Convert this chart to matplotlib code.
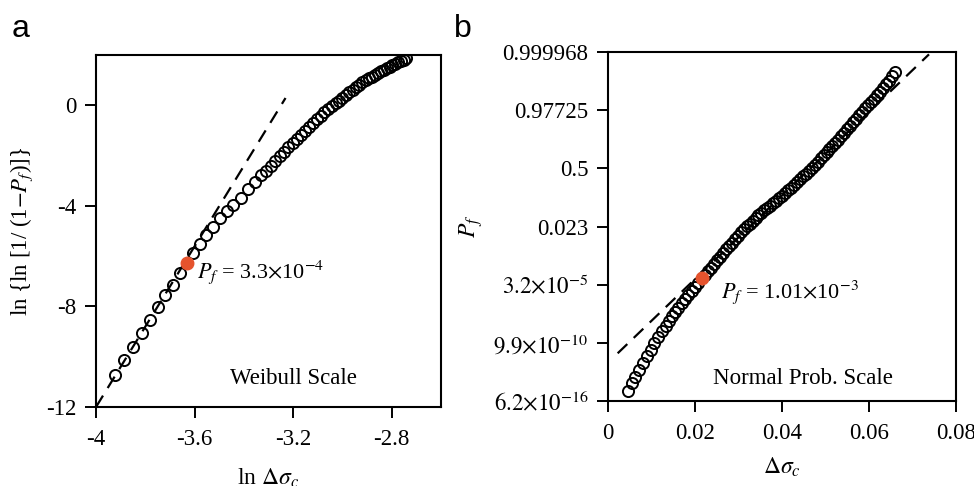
import matplotlib
matplotlib.use('Agg')
import matplotlib.pyplot as plt

plt.rcParams['font.family'] = ['Liberation Serif', 'DejaVu Serif']
plt.rcParams['mathtext.fontset'] = 'stix'

# ---- panel a: Weibull scale (ln dsigma vs ln ln 1/(1-Pf)) ----
a_lnds = [-3.923, -3.887, -3.851, -3.815, -3.781, -3.749, -3.719, -3.689, -3.660,
          -3.606, -3.579, -3.552, -3.525, -3.497, -3.470, -3.446, -3.413, -3.383, -3.355,
          -3.330, -3.311, -3.292, -3.273, -3.255, -3.237, -3.219, -3.202, -3.185, -3.168,
          -3.151, -3.135, -3.119, -3.103, -3.088, -3.073, -3.058, -3.043, -3.028, -3.014,
          -3.000, -2.986, -2.972, -2.959, -2.945, -2.932, -2.919, -2.906, -2.893, -2.881,
          -2.868, -2.856, -2.844, -2.832, -2.820, -2.808, -2.797, -2.786, -2.774, -2.763,
          -2.752, -2.741]
a_weib = [-10.73, -10.14, -9.61, -9.04, -8.55, -8.04, -7.56, -7.13, -6.68,
          -5.89, -5.52, -5.16, -4.83, -4.50, -4.22, -3.96, -3.67, -3.34, -3.05,
          -2.79, -2.60, -2.40, -2.21, -2.02, -1.84, -1.67, -1.50, -1.34, -1.17,
          -1.01, -0.86, -0.71, -0.56, -0.42, -0.28, -0.16, -0.04, 0.08, 0.18,
          0.29, 0.40, 0.51, 0.61, 0.71, 0.81, 0.91, 1.00, 1.08, 1.14,
          1.22, 1.28, 1.35, 1.42, 1.48, 1.54, 1.59, 1.65, 1.71, 1.76,
          1.81, 1.87]
a_red = [-3.632, -6.28]
a_fit_x = [-4.0, -3.231]
a_fit_y = [-12.0, 0.29]

# ---- panel b: normal probability scale (y stored as probit / z-score) ----
b_ds = [0.00467, 0.00545, 0.00621, 0.00713, 0.00811, 0.00903, 0.00989, 0.01064, 0.01156,
        0.01248, 0.01326, 0.01402, 0.01478, 0.01540, 0.01616, 0.01694, 0.01770, 0.01846,
        0.01924, 0.02000, 0.02076,
        0.02236, 0.02304, 0.02372, 0.02440, 0.02508, 0.02576, 0.02644, 0.02712, 0.02780,
        0.02848, 0.02916, 0.02984, 0.03052, 0.03120, 0.03188, 0.03256, 0.03324, 0.03392,
        0.03460, 0.03528, 0.03596, 0.03664, 0.03732, 0.03800, 0.03868, 0.03936, 0.04004,
        0.04072, 0.04140, 0.04208, 0.04276, 0.04344, 0.04412, 0.04480, 0.04548, 0.04616,
        0.04684, 0.04752, 0.04820, 0.04888, 0.04956, 0.05024, 0.05092, 0.05160, 0.05228,
        0.05296, 0.05364, 0.05432, 0.05500, 0.05568, 0.05636, 0.05704, 0.05772, 0.05840,
        0.05908, 0.05976, 0.06044, 0.06112, 0.06180, 0.06248, 0.06316, 0.06384, 0.06452,
        0.06520, 0.06588]
b_z = [-7.66, -7.39, -7.17, -6.94, -6.70, -6.45, -6.25, -6.02, -5.79,
       -5.59, -5.41, -5.24, -5.08, -4.93, -4.79, -4.64, -4.50, -4.36,
       -4.22, -4.07, -3.95,
       -3.66, -3.53, -3.41, -3.28, -3.16, -3.04, -2.91, -2.79, -2.67,
       -2.56, -2.44, -2.32, -2.20, -2.09, -1.99, -1.90, -1.81, -1.72,
       -1.62, -1.53, -1.44, -1.36, -1.28, -1.19, -1.11, -1.03, -0.94,
       -0.85, -0.75, -0.66, -0.56, -0.47, -0.37, -0.28, -0.18, -0.09,
       0.01, 0.12, 0.23, 0.34, 0.45, 0.55, 0.66, 0.77, 0.88,
       0.99, 1.11, 1.23, 1.35, 1.47, 1.59, 1.71, 1.83, 1.95,
       2.06, 2.17, 2.28, 2.39, 2.51, 2.62, 2.75, 2.89, 3.02,
       3.16, 3.30]
b_red = [0.02168, -3.78]
b_fit_x = [0.00223, 0.0738]
b_fit_z = [-6.36, 3.92]

b_zticks = [-8, -6, -4, -2, 0, 2, 4]
b_zlabels = [r'$6.2{\times}10^{-16}$', r'$9.9{\times}10^{-10}$', r'$3.2{\times}10^{-5}$',
             '0.023', '0.5', '0.97725', '0.999968']

RED = '#e5532d'
FS = 16.5

fig = plt.figure(figsize=(9.74, 4.86), dpi=100)
ax1 = fig.add_axes([0.0986, 0.1626, 0.3542, 0.7242])
ax2 = fig.add_axes([0.6242, 0.1749, 0.3573, 0.7181])


def style_axes(ax):
    for s in ax.spines.values():
        s.set_linewidth(1.5)
    ax.tick_params(direction='out', length=8, width=1.4, labelsize=FS,
                   top=False, right=False)
    ax.tick_params(axis='x', pad=8)
    ax.tick_params(axis='y', pad=6)


# panel a
ax1.plot(a_fit_x, a_fit_y, color='black', lw=1.6, dashes=(6, 4))
ax1.plot(a_lnds, a_weib, 'o', ms=8, mfc='none', mec='black', mew=1.4)
ax1.plot(a_red[0], a_red[1], 'o', ms=9, color=RED, mec=RED)
ax1.text(a_red[0] + 0.04, a_red[1] - 0.35, r'$P_f$ = 3.3$\times$10$^{-4}$',
         fontsize=16, va='center', ha='left')
ax1.text(-3.2, -10.86, 'Weibull Scale', fontsize=16.5, ha='center', va='center')
ax1.set_xlim(-4, -2.6)
ax1.set_ylim(-12, 2)
ax1.set_xticks([-4, -3.6, -3.2, -2.8])
ax1.set_xticklabels(['-4', '-3.6', '-3.2', '-2.8'])
ax1.set_yticks([-12, -8, -4, 0])
ax1.set_yticklabels(['-12', '-8', '-4', '0'])
ax1.set_xlabel(r'ln $\Delta\sigma_c$', fontsize=17, labelpad=12)
ax1.set_ylabel(r'ln {ln [1/ (1$-$$P_f$)]}', fontsize=16.5, labelpad=8)
style_axes(ax1)

# panel b
ax2.plot(b_fit_x, b_fit_z, color='black', lw=1.6, dashes=(6, 4))
ax2.plot(b_ds, b_z, 'o', ms=8, mfc='none', mec='black', mew=1.4)
ax2.plot(b_red[0], b_red[1], 'o', ms=9, color=RED, mec=RED)
ax2.text(0.0259, -4.25, r'$P_f$ = 1.01$\times$10$^{-3}$',
         fontsize=16, va='center', ha='left')
ax2.text(0.0449, -7.22, 'Normal Prob. Scale', fontsize=16.5, ha='center', va='center')
ax2.set_xlim(0, 0.08)
ax2.set_ylim(-8, 4)
ax2.set_xticks([0, 0.02, 0.04, 0.06, 0.08])
ax2.set_xticklabels(['0', '0.02', '0.04', '0.06', '0.08'])
ax2.set_yticks(b_zticks)
ax2.set_yticklabels(b_zlabels)
ax2.set_xlabel(r'$\Delta\sigma_c$', fontsize=17, labelpad=8)
ax2.set_ylabel(r'$P_f$', fontsize=17, labelpad=6)
style_axes(ax2)

# panel letters
fig.text(0.012, 0.94, 'a', fontsize=23, family='Liberation Sans', va='center')
fig.text(0.466, 0.94, 'b', fontsize=23, family='Liberation Sans', va='center')

fig.savefig('out.png', dpi=100)
